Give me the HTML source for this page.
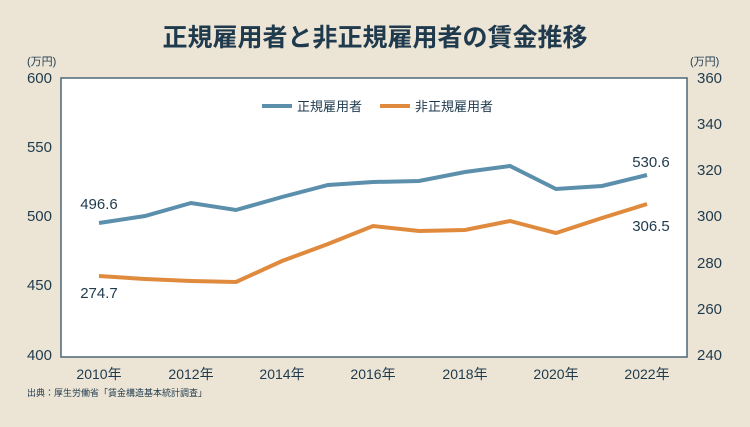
<!DOCTYPE html>
<html><head><meta charset="utf-8"><style>
body{margin:0;width:750px;height:422px;background:#ece5d6;overflow:hidden;font-family:"Liberation Sans","Noto Sans CJK JP",sans-serif;}
</style></head><body>
<svg width="750" height="422" xmlns="http://www.w3.org/2000/svg" font-family="Liberation Sans, Noto Sans CJK JP, sans-serif">
<rect width="750" height="422" fill="#ece5d6"/>
<text x="375" y="46" text-anchor="middle" font-size="25" font-weight="bold" fill="#1f3a4d">正規雇用者と非正規雇用者の賃金推移</text>
<rect x="61" y="78" width="626" height="279" fill="#fff" stroke="#4d6675" stroke-width="1.5"/>
<g font-size="15" fill="#1f3a4d">
<text x="27" y="65" font-size="11">(万円)</text>
<text x="690" y="65" font-size="11">(万円)</text>
<g text-anchor="end"><text x="52" y="83">600</text><text x="52" y="152">550</text><text x="52" y="221">500</text><text x="52" y="290">450</text><text x="52" y="360">400</text></g>
<g><text x="697" y="83">360</text><text x="697" y="129">340</text><text x="697" y="175">320</text><text x="697" y="221">300</text><text x="697" y="268">280</text><text x="697" y="314">260</text><text x="697" y="360">240</text></g>
<g text-anchor="middle" font-size="14"><text x="99" y="379">2010年</text><text x="191" y="379">2012年</text><text x="282" y="379">2014年</text><text x="373" y="379">2016年</text><text x="465" y="379">2018年</text><text x="556" y="379">2020年</text><text x="647" y="379">2022年</text></g>
<text x="99" y="209" text-anchor="middle">496.6</text>
<text x="99" y="298" text-anchor="middle">274.7</text>
<text x="651" y="167" text-anchor="middle">530.6</text>
<text x="651" y="231" text-anchor="middle">306.5</text>
<text x="27" y="396" font-size="9">出典：厚生労働省「賃金構造基本統計調査」</text>
</g>
<line x1="262" y1="106" x2="292" y2="106" stroke="#5b8fac" stroke-width="4"/>
<text x="297" y="111" font-size="13" fill="#1f3a4d">正規雇用者</text>
<line x1="380" y1="106" x2="410" y2="106" stroke="#e08a3e" stroke-width="4"/>
<text x="415" y="111" font-size="13" fill="#1f3a4d">非正規雇用者</text>
<polyline fill="none" stroke="#5b8fac" stroke-width="4" points="99,223 145,216 191,203 236,210 282,197 328,185 373,182 419,181 465,172 510,166 556,189 602,186 647,175"/>
<polyline fill="none" stroke="#e08a3e" stroke-width="4" points="99,276 145,279 191,281 236,282 282,261 328,244 373,226 419,231 465,230 510,221 556,233 602,218 647,204"/>
</svg>
</body></html>
